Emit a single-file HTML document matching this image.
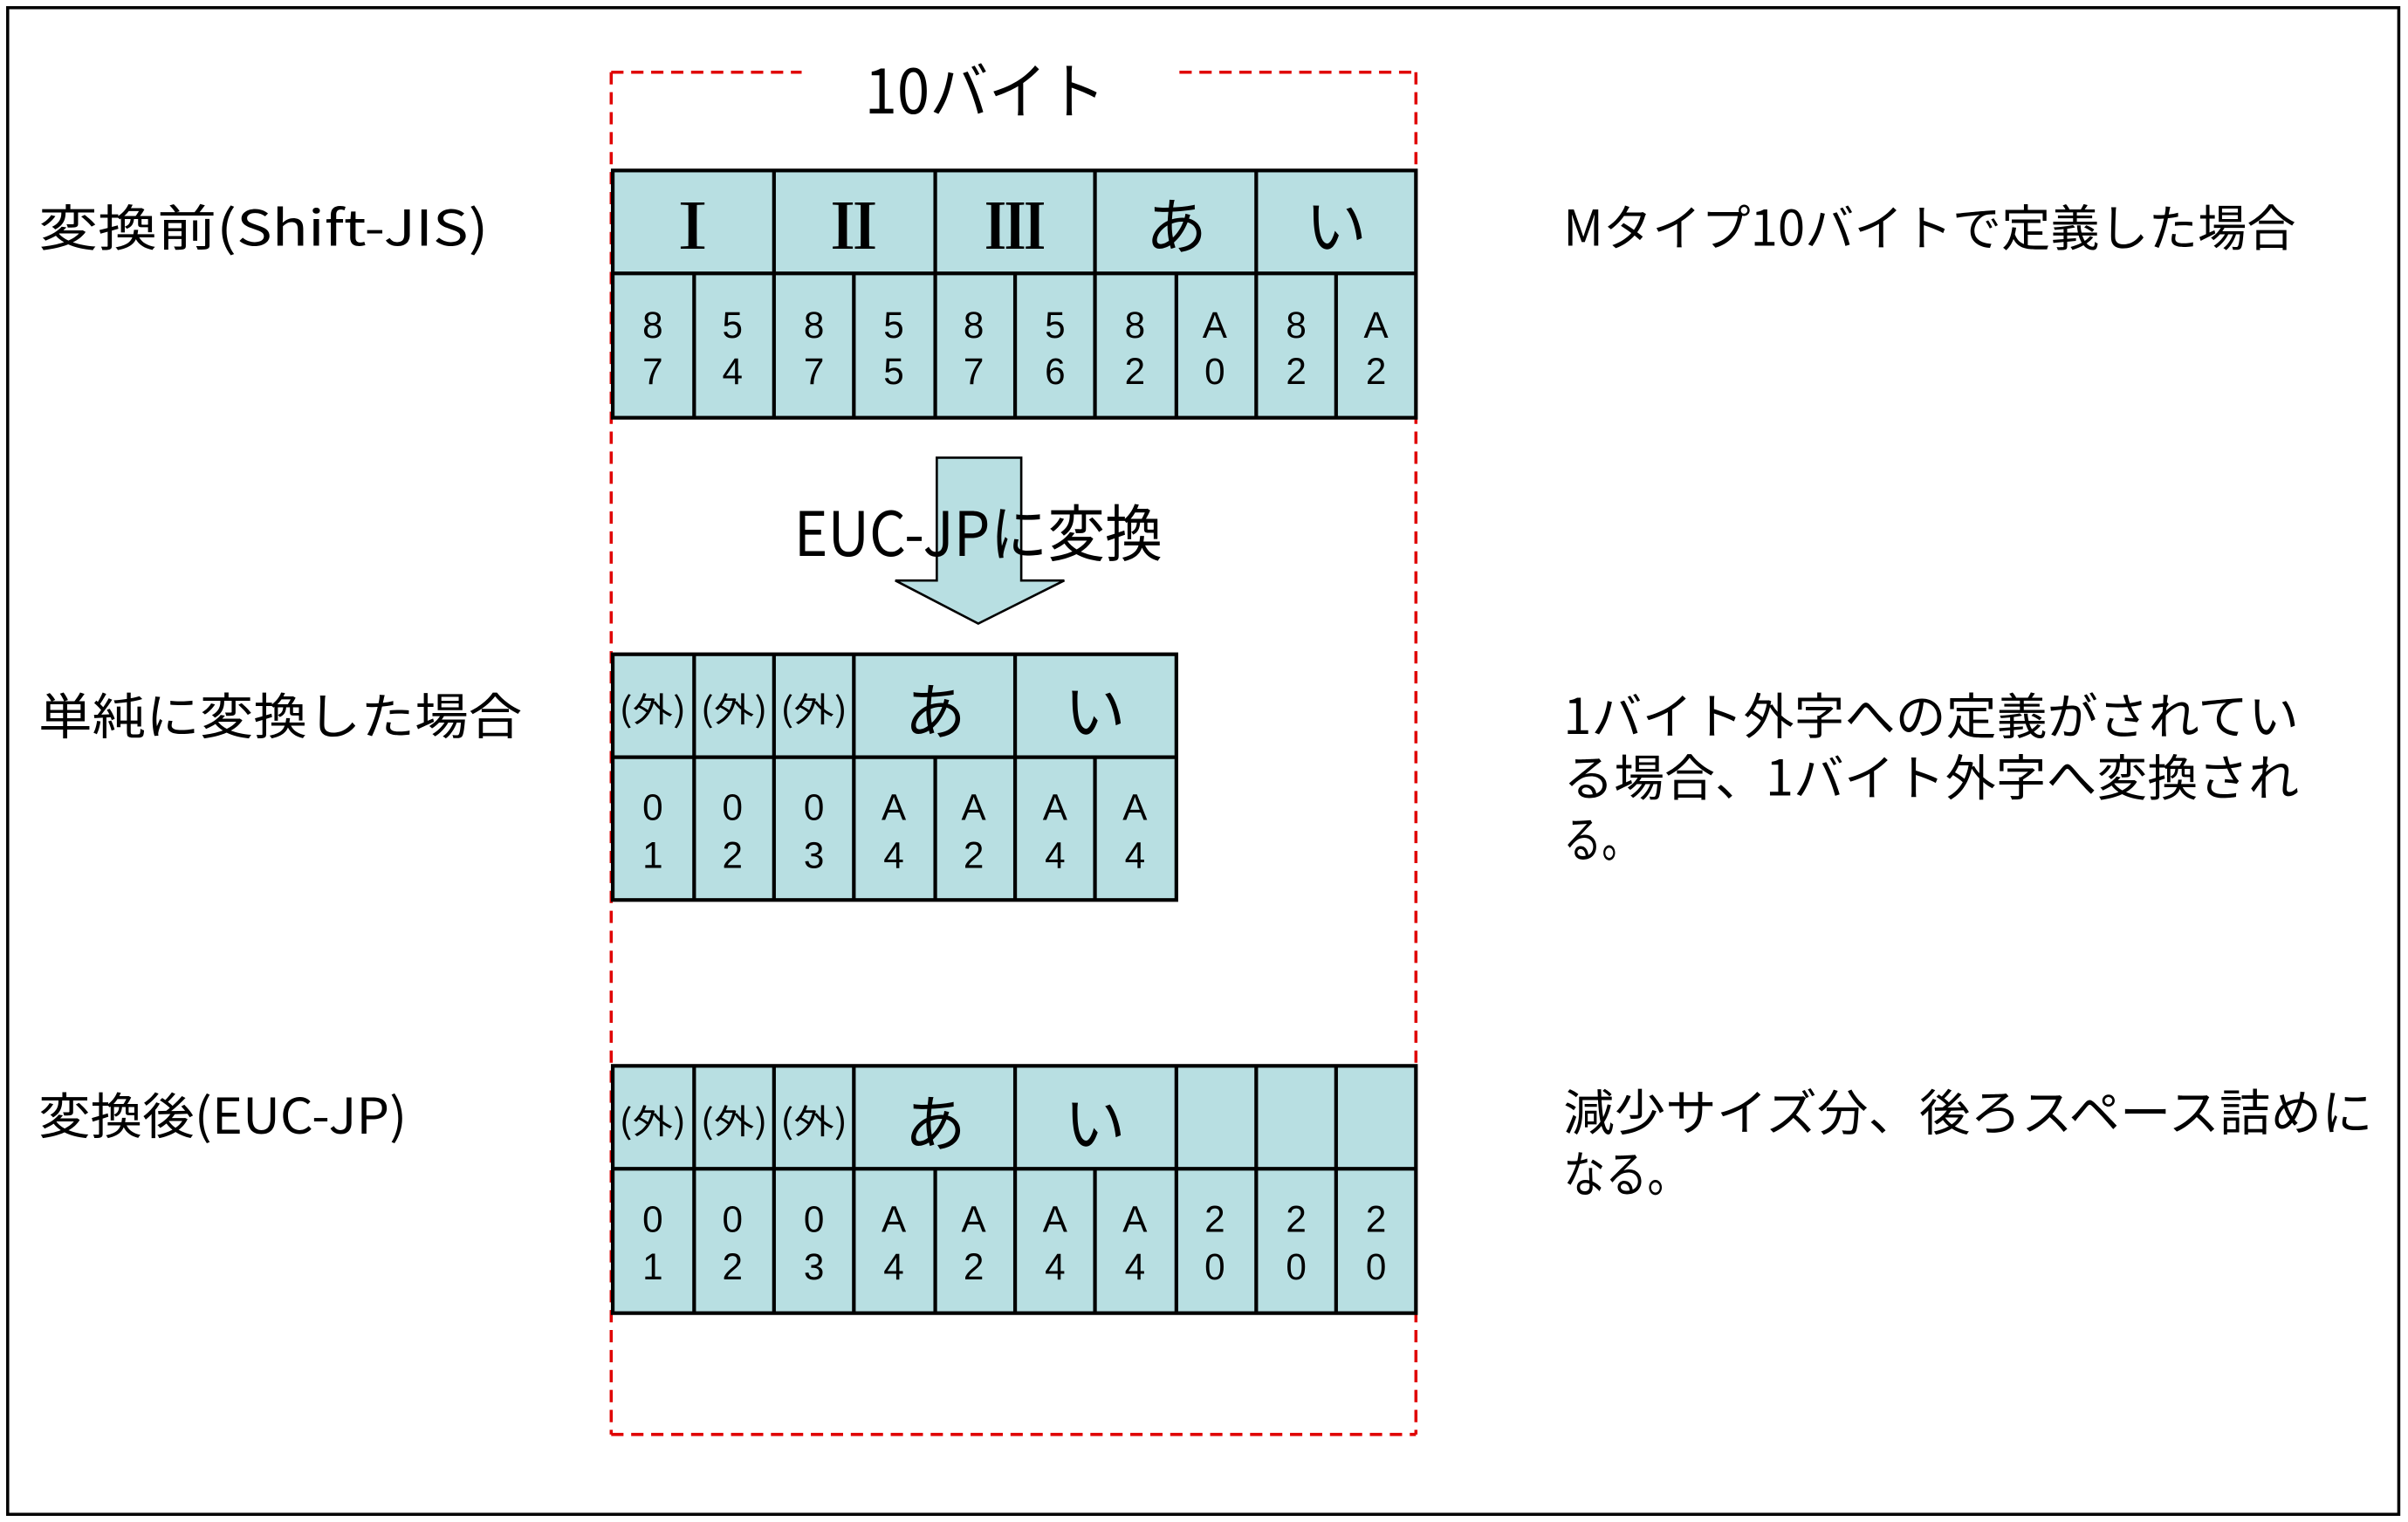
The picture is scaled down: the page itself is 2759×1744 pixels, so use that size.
<!DOCTYPE html>
<html><head><meta charset="utf-8"><style>html,body{margin:0;padding:0;background:#fff}svg{display:block}</style></head>
<body>
<svg width="2759" height="1744" viewBox="0 0 1568 991" preserveAspectRatio="none" xmlns="http://www.w3.org/2000/svg" font-family="'Liberation Sans','Noto Sans CJK JP',sans-serif">
<rect x="5" y="5" width="1557" height="981" fill="#fff" stroke="#000" stroke-width="2"/>
<g stroke="#e00000" stroke-width="2" stroke-dasharray="8,5" fill="none">
<line x1="398" y1="47" x2="522" y2="47"/>
<line x1="768" y1="47" x2="922" y2="47"/>
<line x1="398" y1="47" x2="398" y2="934"/>
<line x1="922" y1="47" x2="922" y2="934"/>
<line x1="398" y1="934" x2="922" y2="934"/>
</g>
<text x="563" y="74" font-size="40" textLength="157" lengthAdjust="spacingAndGlyphs" font-family="'Noto Sans CJK JP',sans-serif">10バイト</text>

<g font-family="'Noto Sans CJK JP',sans-serif">
<text x="25" y="160" font-size="32" textLength="293" lengthAdjust="spacingAndGlyphs">変換前(Shift-JIS)</text>
<text x="25" y="478" font-size="32" textLength="315" lengthAdjust="spacingAndGlyphs">単純に変換した場合</text>
<text x="25" y="738" font-size="32" textLength="240" lengthAdjust="spacingAndGlyphs">変換後(EUC-JP)</text>
<text x="1018" y="160" font-size="32" textLength="477" lengthAdjust="spacingAndGlyphs">Mタイプ10バイトで定義した場合</text>
<text x="1018" y="478" font-size="32" textLength="479" lengthAdjust="spacingAndGlyphs">1バイト外字への定義がされてい</text>
<text x="1018" y="518" font-size="32" textLength="479" lengthAdjust="spacingAndGlyphs">る場合、1バイト外字へ変換され</text>
<text x="1018" y="558" font-size="32" textLength="50" lengthAdjust="spacingAndGlyphs">る。</text>
<text x="1018" y="736" font-size="32" textLength="527" lengthAdjust="spacingAndGlyphs">減少サイズ分、後ろスペース詰めに</text>
<text x="1018" y="776" font-size="32" textLength="82" lengthAdjust="spacingAndGlyphs">なる。</text>
</g>

<g stroke="#000" stroke-width="2.4" fill="#b8dfe2">
<rect x="399" y="111" width="523" height="161"/>
<line x1="399" y1="178" x2="922" y2="178"/>
<line x1="504" y1="111" x2="504" y2="272"/>
<line x1="609" y1="111" x2="609" y2="272"/>
<line x1="713" y1="111" x2="713" y2="272"/>
<line x1="818" y1="111" x2="818" y2="272"/>
<line x1="452" y1="178" x2="452" y2="272"/>
<line x1="556" y1="178" x2="556" y2="272"/>
<line x1="661" y1="178" x2="661" y2="272"/>
<line x1="766" y1="178" x2="766" y2="272"/>
<line x1="870" y1="178" x2="870" y2="272"/>
</g>
<g font-size="40" text-anchor="middle" font-family="'Noto Serif CJK SC','Noto Sans CJK JP',serif" font-weight="bold">
<text x="451" y="162">Ⅰ</text><text x="556" y="162">Ⅱ</text><text x="661" y="162">Ⅲ</text>
</g>
<g font-size="40" text-anchor="middle" font-family="'Noto Sans CJK JP',sans-serif">
<text x="766" y="162">あ</text><text x="870" y="162">い</text>
</g>
<g font-size="24" text-anchor="middle">
<text x="425" y="220">8</text><text x="425" y="250">7</text>
<text x="477" y="220">5</text><text x="477" y="250">4</text>
<text x="530" y="220">8</text><text x="530" y="250">7</text>
<text x="582" y="220">5</text><text x="582" y="250">5</text>
<text x="634" y="220">8</text><text x="634" y="250">7</text>
<text x="687" y="220">5</text><text x="687" y="250">6</text>
<text x="739" y="220">8</text><text x="739" y="250">2</text>
<text x="791" y="220">A</text><text x="791" y="250">0</text>
<text x="844" y="220">8</text><text x="844" y="250">2</text>
<text x="896" y="220">A</text><text x="896" y="250">2</text>
</g>

<polygon points="610,298 665,298 665,378 693,378 637,406 583,378 610,378" fill="#b8dfe2" stroke="#000" stroke-width="1.5"/>
<text x="517" y="362" font-size="40" textLength="240" lengthAdjust="spacingAndGlyphs" font-family="'Noto Sans CJK JP',sans-serif">EUC-JPに変換</text>

<g stroke="#000" stroke-width="2.4" fill="#b8dfe2">
<rect x="399" y="426" width="367" height="160"/>
<line x1="399" y1="493" x2="766" y2="493"/>
<line x1="452" y1="426" x2="452" y2="586"/>
<line x1="504" y1="426" x2="504" y2="586"/>
<line x1="556" y1="426" x2="556" y2="586"/>
<line x1="661" y1="426" x2="661" y2="586"/>
<line x1="609" y1="493" x2="609" y2="586"/>
<line x1="713" y1="493" x2="713" y2="586"/>
</g>
<g text-anchor="middle" font-family="'Noto Sans CJK JP',sans-serif">
<text x="425" y="470" font-size="22" textLength="44" lengthAdjust="spacingAndGlyphs">(外)</text>
<text x="478" y="470" font-size="22" textLength="44" lengthAdjust="spacingAndGlyphs">(外)</text>
<text x="530" y="470" font-size="22" textLength="44" lengthAdjust="spacingAndGlyphs">(外)</text>
<text x="609" y="478" font-size="40">あ</text><text x="713" y="478" font-size="40">い</text>
</g>
<g font-size="24" text-anchor="middle">
<text x="425" y="534">0</text><text x="425" y="565">1</text>
<text x="477" y="534">0</text><text x="477" y="565">2</text>
<text x="530" y="534">0</text><text x="530" y="565">3</text>
<text x="582" y="534">A</text><text x="582" y="565">4</text>
<text x="634" y="534">A</text><text x="634" y="565">2</text>
<text x="687" y="534">A</text><text x="687" y="565">4</text>
<text x="739" y="534">A</text><text x="739" y="565">4</text>
</g>

<g stroke="#000" stroke-width="2.4" fill="#b8dfe2">
<rect x="399" y="694" width="523" height="161"/>
<line x1="399" y1="761" x2="922" y2="761"/>
<line x1="452" y1="694" x2="452" y2="855"/>
<line x1="504" y1="694" x2="504" y2="855"/>
<line x1="556" y1="694" x2="556" y2="855"/>
<line x1="661" y1="694" x2="661" y2="855"/>
<line x1="766" y1="694" x2="766" y2="855"/>
<line x1="818" y1="694" x2="818" y2="855"/>
<line x1="870" y1="694" x2="870" y2="855"/>
<line x1="609" y1="761" x2="609" y2="855"/>
<line x1="713" y1="761" x2="713" y2="855"/>
</g>
<g text-anchor="middle" font-family="'Noto Sans CJK JP',sans-serif">
<text x="425" y="738" font-size="22" textLength="44" lengthAdjust="spacingAndGlyphs">(外)</text>
<text x="478" y="738" font-size="22" textLength="44" lengthAdjust="spacingAndGlyphs">(外)</text>
<text x="530" y="738" font-size="22" textLength="44" lengthAdjust="spacingAndGlyphs">(外)</text>
<text x="609" y="746" font-size="40">あ</text><text x="713" y="746" font-size="40">い</text>
</g>
<g font-size="24" text-anchor="middle">
<text x="425" y="802">0</text><text x="425" y="833">1</text>
<text x="477" y="802">0</text><text x="477" y="833">2</text>
<text x="530" y="802">0</text><text x="530" y="833">3</text>
<text x="582" y="802">A</text><text x="582" y="833">4</text>
<text x="634" y="802">A</text><text x="634" y="833">2</text>
<text x="687" y="802">A</text><text x="687" y="833">4</text>
<text x="739" y="802">A</text><text x="739" y="833">4</text>
<text x="791" y="802">2</text><text x="791" y="833">0</text>
<text x="844" y="802">2</text><text x="844" y="833">0</text>
<text x="896" y="802">2</text><text x="896" y="833">0</text>
</g>
</svg>
</body></html>
